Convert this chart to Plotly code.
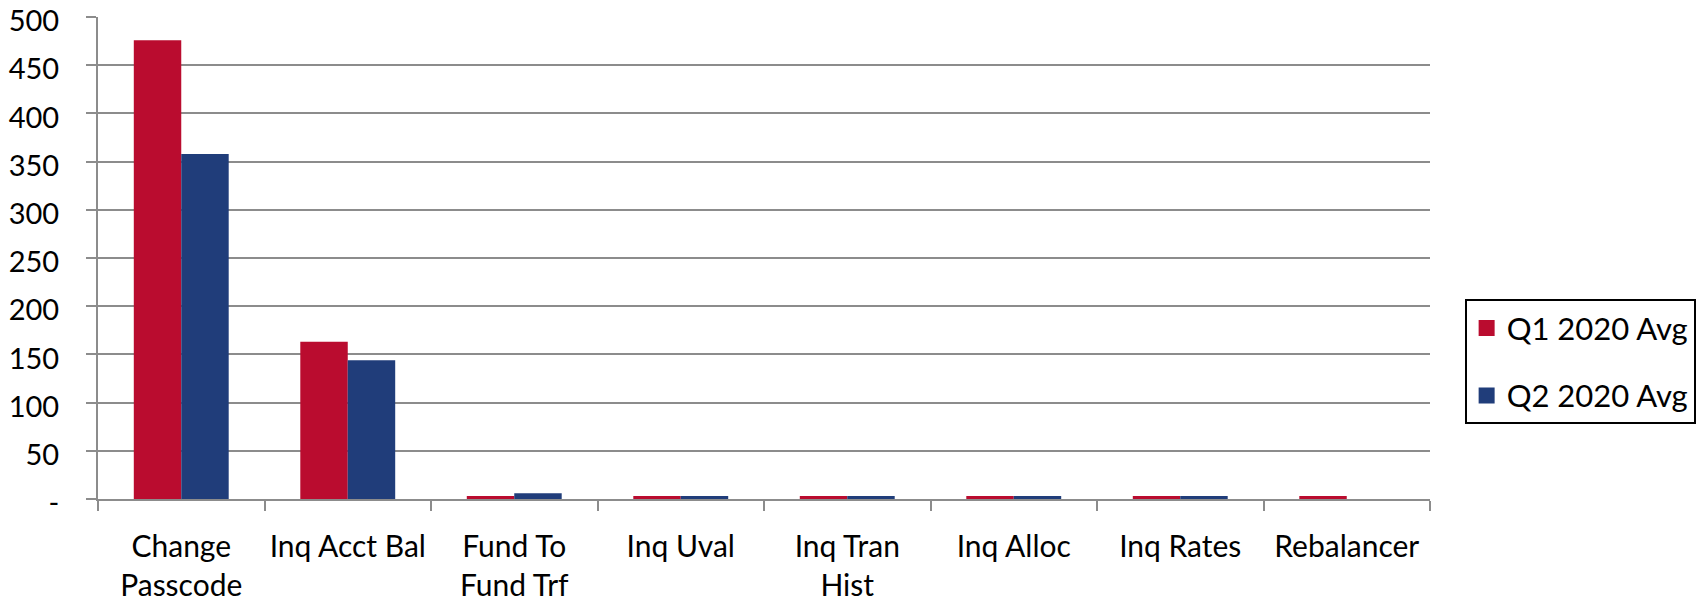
import plotly.graph_objects as go

categories = ["Change<br>Passcode", "Inq Acct Bal", "Fund To<br>Fund Trf", "Inq Uval",
              "Inq Tran<br>Hist", "Inq Alloc", "Inq Rates", "Rebalancer"]
q1_values = [476, 163, 3, 3, 3, 3, 3, 3]
q2_values = [358, 144, 6, 3, 3, 3, 3, 0]
series_names = ["Q1 2020 Avg", "Q2 2020 Avg"]
y_tick_vals = [0, 50, 100, 150, 200, 250, 300, 350, 400, 450, 500]
y_tick_text = ["-", "50", "100", "150", "200", "250", "300", "350", "400", "450", "500"]

RED = "#BA0C2F"
BLUE = "#203D7A"
GRID = "#8C8C8C"
FONT = "Lato"

fig = go.Figure()
fig.add_trace(go.Bar(x=categories, y=q1_values, name=series_names[0], showlegend=False,
                     marker=dict(color=RED, line=dict(width=0))))
fig.add_trace(go.Bar(x=categories, y=q2_values, name=series_names[1], showlegend=False,
                     marker=dict(color=BLUE, line=dict(width=0))))
# legend entries with larger square swatches
for nm, col, grp in [(series_names[0], RED, "a"), (series_names[1], BLUE, "b")]:
    fig.add_trace(go.Scatter(x=[None], y=[None], mode="markers", name=nm, legendgroup=grp,
                             marker=dict(symbol="square", size=21, color=col)))

# page body has an 8px default margin, so the figure is sized to fit the window
fig.update_layout(
    width=1697, height=598,
    margin=dict(l=90, r=271, t=9, b=107),
    paper_bgcolor="white", plot_bgcolor="white",
    font=dict(family=FONT, size=30, color="black"),
    barmode="group", bargap=0.43, bargroupgap=0,
    legend=dict(x=1.026, y=0.414, xanchor="left", yanchor="top",
                bordercolor="black", borderwidth=2, bgcolor="white",
                font=dict(family=FONT, size=31, color="black"),
                tracegroupgap=24, itemclick=False, itemwidth=30),
    showlegend=True,
)
fig.update_yaxes(range=[0, 500], tickvals=y_tick_vals, ticktext=y_tick_text,
                 tickfont=dict(family=FONT, size=29, color="black"),
                 showgrid=True, gridcolor=GRID, gridwidth=2,
                 showline=True, linecolor=GRID, linewidth=2,
                 ticks="outside", ticklen=10, tickwidth=2, tickcolor=GRID,
                 ticklabelstandoff=21, ticklabelshift=4, ticklabeloverflow="allow",
                 automargin=False, zeroline=False, fixedrange=True)
fig.update_xaxes(showline=True, linecolor=GRID, linewidth=2,
                 ticks="outside", ticklen=10, tickwidth=2, tickcolor=GRID,
                 tickson="boundaries", ticklabelstandoff=20, tickangle=0,
                 automargin=False, showgrid=False, fixedrange=True)

fig.write_html("out.html")
